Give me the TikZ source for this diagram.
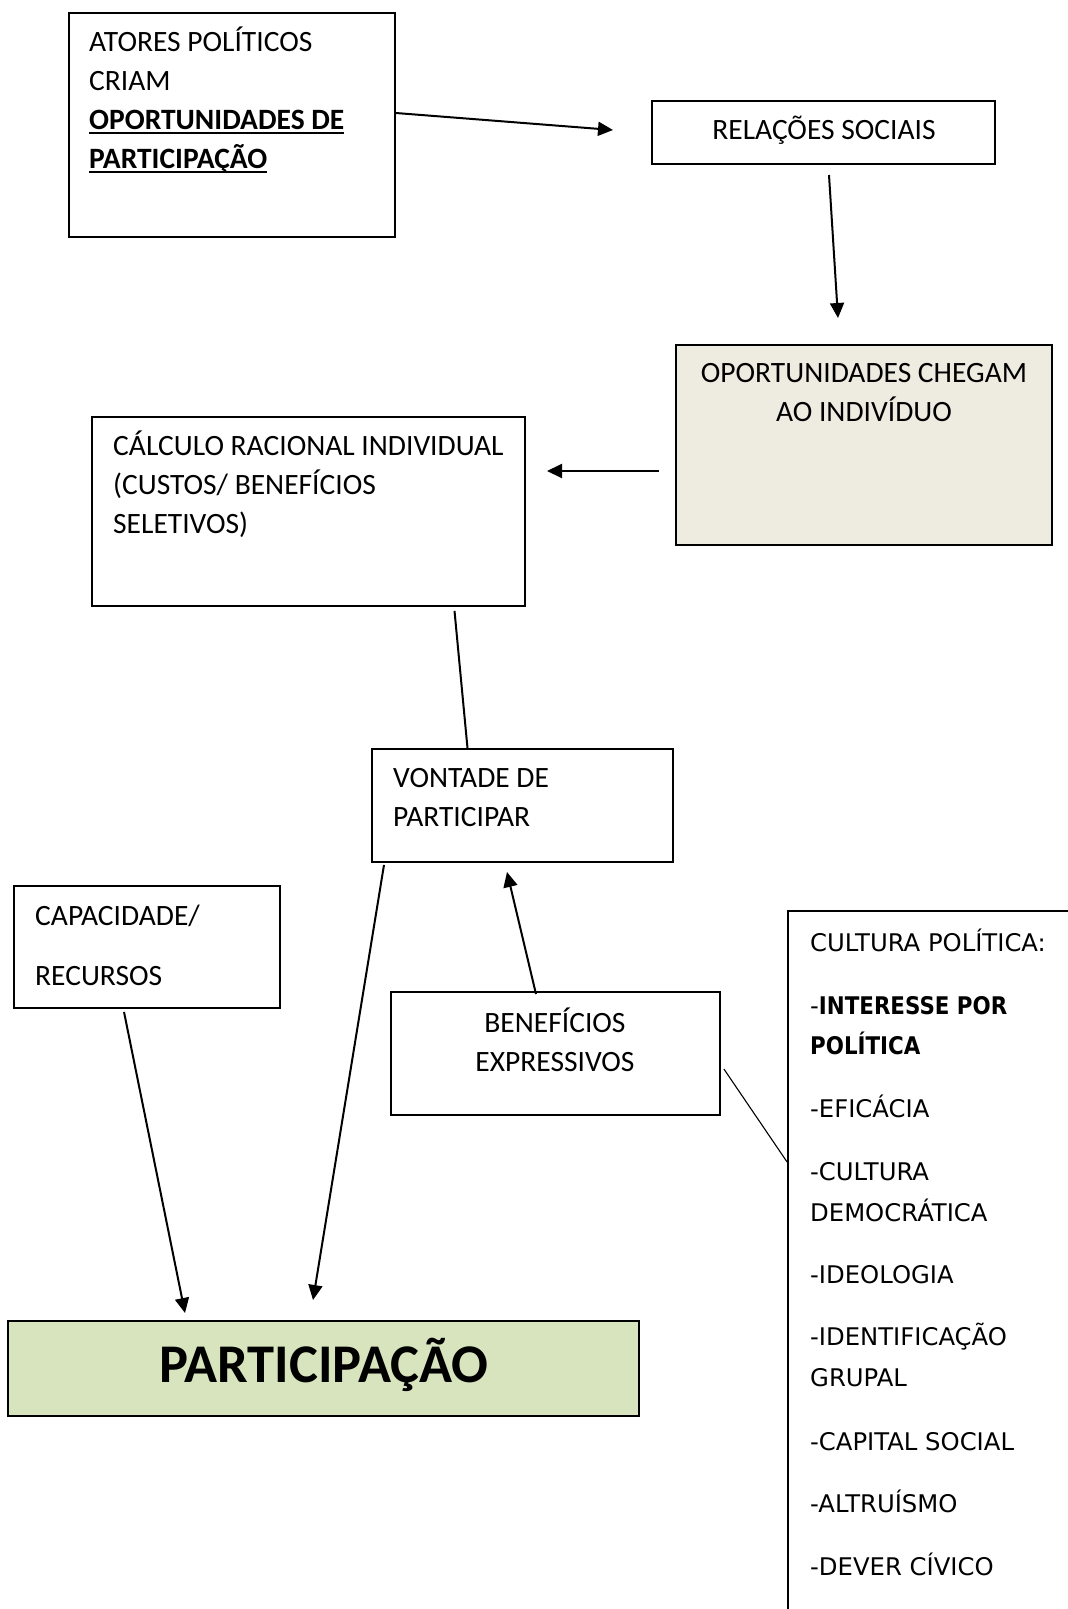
\documentclass[tikz,border=0pt]{standalone}
\usepackage{fontspec}
\setmainfont{Carlito}
\newfontfamily\cultf[BoldFeatures={FakeStretch=0.88}]{DejaVu Sans}
\usetikzlibrary{arrows.meta,fit,calc}
\definecolor{oportfill}{HTML}{EEECE1}
\definecolor{partfill}{HTML}{D7E4BD}
\newcommand\ulin[1]{\setbox0\hbox{#1}\rlap{\rule[-4.5pt]{\wd0}{1.6pt}}\box0}
\begin{document}
\begin{tikzpicture}[x=1pt,y=-1pt,
  box/.style={draw=black, line width=1.8pt, inner sep=0pt},
  arr/.style={line width=2pt, -{Triangle[length=15pt,width=14pt]}},
  ln/.style={line width=2pt},
  thinln/.style={line width=1.1pt},
  txt/.style={anchor=base west, inner sep=0pt, font=\fontsize{29.5}{35}\selectfont},
  ctxt/.style={anchor=base, inner sep=0pt, font=\fontsize{29.5}{35}\selectfont},
  cult/.style={anchor=base west, inner sep=0pt, font=\cultf\fontsize{24.3}{28}\selectfont}]
\useasboundingbox (0,0) rectangle (1068,1609);
\clip (0,0) rectangle (1068,1609);
\fill[white] (0,0) rectangle (1068,1609);

% boxes
\node[box, fit={(69,13) (395,237)}] (atores) {};
\node[box, fit={(652,101) (995,164)}] (rel) {};
\node[box, fill=oportfill, fit={(676,345) (1052,545)}] (oport) {};
\node[box, fit={(92,417) (525,606)}] (calc) {};
\node[box, fit={(372,749) (673,862)}] (vont) {};
\node[box, fit={(14,886) (280,1008)}] (capac) {};
\node[box, fit={(391,992) (720,1115)}] (benef) {};
\node[box, fit={(788,911) (1100,1650)}] (cultura) {};
\node[box, fill=partfill, fit={(8,1321) (639,1416)}] (part) {};

% texts
\node[txt] (at1) at (89,51) {ATORES POLÍTICOS};
\node[txt] (at2) at (89,90) {CRIAM};
\node[txt] (at3) at (89,129) {\bfseries\ulin{OPORTUNIDADES DE}};
\node[txt] (at4) at (89,168) {\bfseries\ulin{PARTICIPAÇÃO}};

\node[ctxt] (rel1) at (824,139) {RELAÇÕES SOCIAIS};

\node[ctxt] (op1) at (864,382) {OPORTUNIDADES CHEGAM};
\node[ctxt] (op2) at (864,421) {AO INDIVÍDUO};

\node[txt] (ca1) at (113,455) {CÁLCULO RACIONAL INDIVIDUAL};
\node[txt] (ca2) at (113,494) {(CUSTOS/ BENEFÍCIOS};
\node[txt] (ca3) at (113,533) {SELETIVOS)};

\node[txt] (vo1) at (393,787) {VONTADE DE};
\node[txt] (vo2) at (393,826) {PARTICIPAR};

\node[txt] (cp1) at (35,925) {CAPACIDADE/};
\node[txt] (cp2) at (35,985) {RECURSOS};

\node[ctxt] (be1) at (555,1032) {BENEFÍCIOS};
\node[ctxt] (be2) at (555,1071) {EXPRESSIVOS};

\node[cult] (cu1) at (810,951) {CULTURA POLÍTICA:};
\node[cult] (cu2) at (810,1014) {-\textbf{INTERESSE POR}};
\node[cult] (cu3) at (810,1054) {\textbf{POLÍTICA}};
\node[cult] (cu4) at (810,1117) {-EFICÁCIA};
\node[cult] (cu5) at (810,1180) {-CULTURA};
\node[cult] (cu6) at (810,1221) {DEMOCRÁTICA};
\node[cult] (cu7) at (810,1283) {-IDEOLOGIA};
\node[cult] (cu8) at (810,1345) {-IDENTIFICAÇÃO};
\node[cult] (cu9) at (810,1386) {GRUPAL};
\node[cult] (cu10) at (810,1450) {-CAPITAL SOCIAL};
\node[cult] (cu11) at (810,1512) {-ALTRUÍSMO};
\node[cult] (cu12) at (810,1575) {-DEVER CÍVICO};

\node[anchor=base, inner sep=0pt, font=\bfseries\fontsize{54.5}{60}\selectfont] (pt) at (324,1382) {PARTICIPAÇÃO};

% connector ends
\coordinate (relIn) at (613,130);
\coordinate (relOut) at (829,175);
\coordinate (oportIn) at (838,318);
\coordinate (oportOut) at (659,471);
\coordinate (calcIn) at (547,471);
\coordinate (vontIn) at (507,872);
\coordinate (partInA) at (313,1300);
\coordinate (partInB) at (185,1313);

% connectors
\draw[arr] ($(atores.east)+(0,-12)$) -- (relIn);
\draw[arr] (relOut) -- (oportIn);
\draw[arr] (oportOut) -- (calcIn);
\draw[ln] ($(calc.south)+(146,4)$) -- ($(vont.north)+(-55,0)$);
\draw[arr] ($(benef.north)+(-19.5,3)$) -- (vontIn);
\draw[arr] ($(vont.south)+(-138.5,2)$) -- (partInA);
\draw[arr] ($(capac.south)+(-23,3)$) -- (partInB);
\draw[thinln] ($(benef.east)+(3,15.5)$) -- ($(cultura.west)+(0,-118.5)$);
\end{tikzpicture}
\end{document}
